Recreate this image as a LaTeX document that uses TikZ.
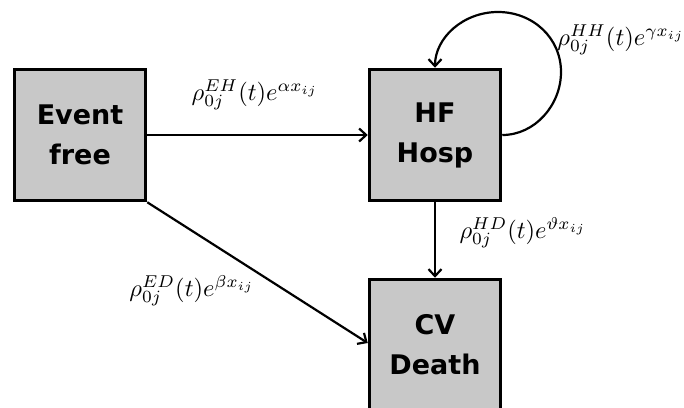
\documentclass[tikz,border=0pt]{standalone}
\usepackage{fontspec}
\setsansfont{DejaVu Sans}
\usetikzlibrary{arrows.meta}
\definecolor{boxgray}{RGB}{200,200,200}
\tikzset{
  statebox/.style={draw=black, line width=3.5pt, fill=boxgray, minimum width=131pt, minimum height=131pt, inner sep=0pt, align=center, font=\fontsize{27}{40}\sffamily\bfseries},
  conn/.style={line width=2.2pt, -{Straight Barb[length=7pt,width=13pt,line width=2.2pt]}},
  ratelabel/.style={inner sep=0pt}
}
\newcommand{\ratetext}[1]{\scalebox{2.45}{$#1$}}
\begin{document}
\begin{tikzpicture}[x=1pt,y=-1pt]
\useasboundingbox (0,0) rectangle (684,407);
\clip (0,0) rectangle (684,407);
\node[statebox] (ef) at (80,135) {Event\\free};
\node[statebox] (hf) at (435,135) {HF\\Hosp};
\node[statebox] (cv) at (435,345) {CV\\Death};
\draw[conn] (ef.east) -- (hf.west);
\draw[conn] (ef.south east) -- (cv.west |- 0,343) coordinate (edend);
\draw[conn] (hf.south) -- (cv.north);
\coordinate (lr) at (561,72);
\coordinate (lt) at (498,12);
\draw[conn] (hf.east) .. controls (535,135) and (561,105) .. (lr)
  .. controls (561,38) and (533,12) .. (lt)
  .. controls (463,12) and (435,38) .. (hf.north);
\node[ratelabel] (leh) at (255,95) {\ratetext{\rho^{EH}_{0j}(t)e^{\alpha x_{ij}}}};
\node[ratelabel] (lhh) at (621,40) {\ratetext{\rho^{HH}_{0j}(t)e^{\gamma x_{ij}}}};
\node[ratelabel] (lhd) at (523,233) {\ratetext{\rho^{HD}_{0j}(t)e^{\vartheta x_{ij}}}};
\node[ratelabel] (led) at (192,291) {\ratetext{\rho^{ED}_{0j}(t)e^{\beta x_{ij}}}};
\end{tikzpicture}
\end{document}
